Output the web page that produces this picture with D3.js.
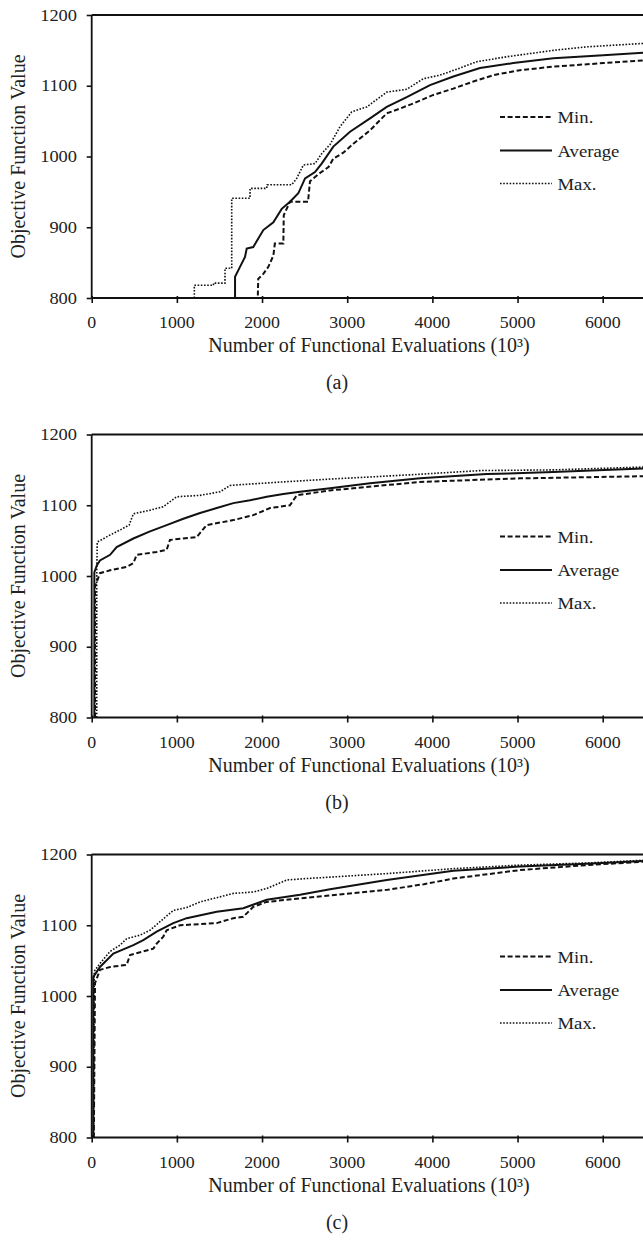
<!DOCTYPE html>
<html>
<head>
<meta charset="utf-8">
<script src="https://cdn.jsdelivr.net/npm/d3@7"></script>
<style>
html,body{margin:0;padding:0;background:#fff;}
svg{display:block;}
text{font-family:"Liberation Serif","Times New Roman",serif;fill:#222;}
</style>
</head>
<body>
<svg id="chart" width="643" height="1241"></svg>
<script>
// ---- data (x in thousands of evaluations, y objective value) ----
const xTickValues = [0, 1000, 2000, 3000, 4000, 5000, 6000];
const yTickValues = [800, 900, 1000, 1100, 1200];
const seriesNames = ["Min.", "Average", "Max."];
const panelLabels = ["(a)", "(b)", "(c)"];

const aMin = [[1800,800],[1950,800],[1955,827],[2015,834],[2074,844],[2133,860],[2150,877],[2250,877],[2255,917],[2328,936],[2540,936],[2563,965],[2661,975],[2780,985],[2837,997],[2950,1005],[3072,1018],[3268,1037],[3464,1061],[3581,1066],[3776,1075],[4011,1087],[4246,1096],[4481,1106],[4716,1115],[5029,1122],[5420,1127],[6007,1132],[6500,1136],[7000,1139]];
const aAvg = [[1683,800],[1683,830],[1741,844],[1800,858],[1820,870],[1897,872],[1956,884],[2015,896],[2133,907],[2231,926],[2328,936],[2426,948],[2505,969],[2622,978],[2700,990],[2837,1014],[3033,1035],[3268,1054],[3464,1070],[3699,1084],[3972,1101],[4246,1113],[4559,1125],[4950,1132],[5420,1139],[6007,1143],[6500,1147],[7000,1149]];
const aMax = [[1205,800],[1205,818],[1430,818],[1430,821],[1565,821],[1565,842],[1644,842],[1644,941],[1859,941],[1859,955],[2055,955],[2060,960],[2348,960],[2407,969],[2485,988],[2622,990],[2700,1004],[2798,1017],[2915,1042],[3053,1063],[3229,1070],[3464,1091],[3699,1095],[3894,1110],[4090,1115],[4324,1125],[4520,1134],[4873,1141],[5420,1150],[5812,1155],[6500,1160],[7000,1162]];

const bMin = [[39,800],[39,985],[97,1004],[216,1008],[411,1013],[489,1018],[528,1030],[763,1034],[880,1037],[919,1051],[1233,1055],[1350,1072],[1663,1079],[1897,1086],[2094,1096],[2328,1100],[2407,1114],[2798,1121],[3072,1124],[3855,1133],[5029,1138],[6476,1141],[7000,1143]];
const bAvg = [[31,800],[31,1005],[60,1015],[97,1022],[216,1030],[293,1041],[489,1053],[685,1063],[880,1072],[1076,1081],[1272,1089],[1468,1096],[1663,1103],[1859,1107],[2055,1112],[2250,1116],[2446,1119],[2798,1124],[3268,1131],[3855,1138],[4638,1144],[5420,1147],[6476,1152],[7000,1154]];
const bMax = [[59,800],[59,1000],[65,1048],[216,1058],[333,1065],[440,1072],[489,1088],[685,1093],[841,1098],[998,1112],[1272,1114],[1507,1119],[1624,1128],[1859,1130],[2250,1133],[2798,1137],[3737,1143],[4559,1149],[5420,1150],[6476,1154],[7000,1156]];

const cMin = [[25,800],[39,1018],[97,1037],[216,1041],[411,1044],[450,1058],[606,1063],[724,1067],[763,1074],[841,1084],[880,1093],[1037,1100],[1468,1103],[1663,1110],[1780,1112],[1897,1126],[2055,1133],[2446,1138],[2798,1142],[3464,1150],[3900,1158],[4246,1166],[5029,1178],[5812,1185],[6500,1190],[7000,1192]];
const cAvg = [[19,800],[19,1027],[97,1041],[254,1060],[489,1072],[606,1079],[763,1091],[958,1103],[1115,1110],[1468,1119],[1780,1124],[2055,1136],[2446,1143],[2798,1151],[3464,1164],[4246,1177],[5029,1183],[5812,1187],[6500,1191],[7000,1193]];
const cMax = [[22,800],[30,1035],[97,1046],[216,1063],[333,1072],[411,1081],[567,1086],[685,1093],[802,1105],[958,1121],[1115,1125],[1272,1133],[1468,1139],[1663,1145],[1897,1147],[2055,1152],[2290,1164],[2525,1166],[2798,1168],[3464,1173],[4246,1180],[5029,1185],[5812,1188],[6500,1192],[7000,1193]];

const panels = [
  {label: panelLabels[0], series: [aMin, aAvg, aMax]},
  {label: panelLabels[1], series: [bMin, bAvg, bMax]},
  {label: panelLabels[2], series: [cMin, cAvg, cMax]}
];

// ---- layout ----
const panelTops = [15, 434.5, 854.5];
const plotH = 283;
const left = 91.7;
const pxPer1000 = 85.17;
const styles = [
  {dash: "5,2.6", width: 2.0},
  {dash: null, width: 2.0},
  {dash: "1.6,1.6", width: 1.6}
];

const svg = d3.select("#chart");

function stretchedText(g, x, y, str, size, sx, anchor, extra) {
  const t = g.append("text")
    .attr("transform", `translate(${x},${y}) scale(${sx},1)`)
    .attr("font-size", size)
    .attr("text-anchor", anchor || "start")
    .text(str);
  return t;
}

panels.forEach((p, i) => {
  const top = panelTops[i];
  const g = svg.append("g");
  const x = d3.scaleLinear().domain([0, 7000]).range([left, left + 7 * pxPer1000]);
  const y = d3.scaleLinear().domain([800, 1200]).range([top + plotH, top]);

  const clipId = "clip" + i;
  svg.append("clipPath").attr("id", clipId)
    .append("rect").attr("x", left).attr("y", top - 1).attr("width", 700).attr("height", plotH + 1);

  // series lines
  const line = d3.line().x(d => x(d[0])).y(d => y(d[1]));
  p.series.forEach((s, k) => {
    g.append("path")
      .attr("clip-path", `url(#${clipId})`)
      .attr("d", line(s))
      .attr("fill", "none")
      .attr("stroke", "#111")
      .attr("stroke-width", styles[k].width)
      .attr("stroke-dasharray", styles[k].dash);
  });

  // top border
  g.append("line").attr("x1", left).attr("x2", 700).attr("y1", top).attr("y2", top)
    .attr("stroke", "#111").attr("stroke-width", 1.8);

  // x axis
  const xAxis = g.append("g").attr("transform", `translate(0,${top + plotH})`)
    .call(d3.axisBottom(x).tickValues(xTickValues).tickSize(5).tickFormat(""));
  xAxis.select(".domain").attr("d", `M${left},0H700`).attr("stroke", "#111").attr("stroke-width", 1.8);
  xAxis.selectAll(".tick line").attr("stroke", "#111").attr("stroke-width", 1.6).attr("y1", -2);
  xTickValues.forEach(v => {
    stretchedText(g, x(v), top + plotH + 30, String(v), 17, 1.05, "middle");
  });

  // y axis
  const yAxis = g.append("g").attr("transform", `translate(${left},0)`)
    .call(d3.axisLeft(y).tickValues(yTickValues).tickSize(5).tickFormat(""));
  yAxis.select(".domain").attr("d", `M0,${top}V${top + plotH}`).attr("stroke", "#111").attr("stroke-width", 1.8);
  yAxis.selectAll(".tick line").attr("stroke", "#111").attr("stroke-width", 1.6);
  yTickValues.forEach(v => {
    stretchedText(g, 77, y(v) + 5.5, String(v), 16, 1.15, "end");
  });

  // y axis title
  g.append("text")
    .attr("transform", `translate(25,${top + plotH / 2}) rotate(-90)`)
    .attr("text-anchor", "middle")
    .attr("font-size", 20)
    .text("Objective Function Value");

  // x axis title
  g.append("text")
    .attr("x", 369).attr("y", top + plotH + 54)
    .attr("text-anchor", "middle")
    .attr("font-size", 20)
    .text("Number of Functional Evaluations (10³)");

  // panel label
  g.append("text")
    .attr("x", 337).attr("y", top + plotH + 91)
    .attr("text-anchor", "middle")
    .attr("font-size", 20)
    .text(p.label);

  // legend
  const legY = [top + 102, top + 135.5, top + 168.5];
  seriesNames.forEach((name, k) => {
    g.append("line")
      .attr("x1", 500).attr("x2", 552)
      .attr("y1", legY[k]).attr("y2", legY[k])
      .attr("stroke", "#111")
      .attr("stroke-width", styles[k].width)
      .attr("stroke-dasharray", styles[k].dash);
    stretchedText(g, 557.5, legY[k] + 6, name, 17, 1.1, "start");
  });
});
</script>
</body>
</html>
